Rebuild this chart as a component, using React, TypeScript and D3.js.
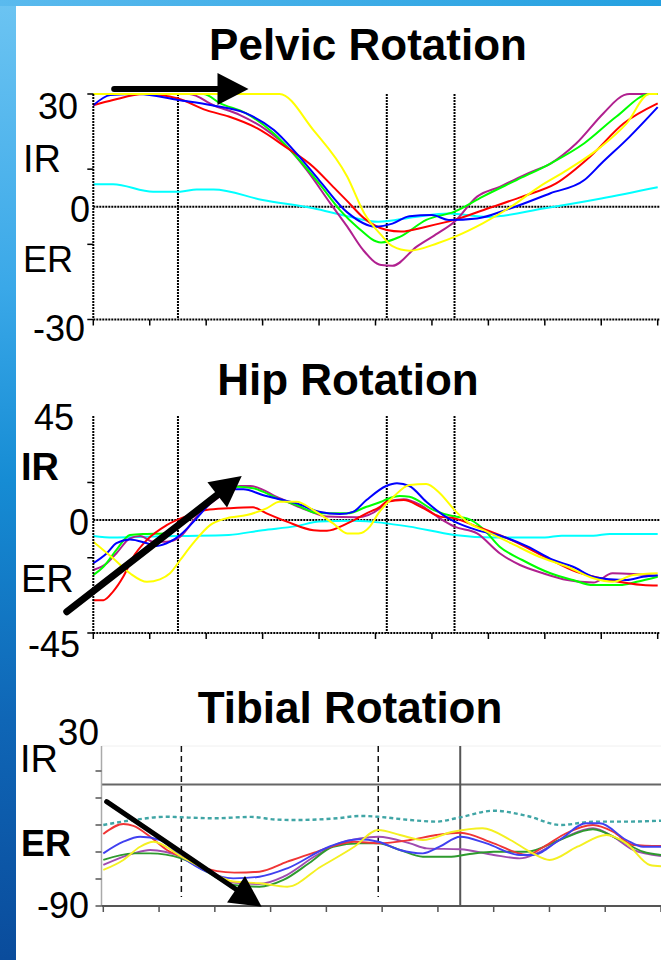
import React from "react";
import * as d3 from "d3";

type Pt = [number, number];

const FONT = "'Liberation Sans', Arial, Helvetica, sans-serif";

// x axis: % of gait cycle
const cycleTicks = [0, 10, 20, 30, 40, 50, 60, 70, 80, 90, 100];

// ---------- Pelvic rotation (deg) ----------
const pelvicEvents = [15, 52, 64];
const pelvicYTicks = [30, 10, -10, -30];
const pelvicCyan: Pt[] = [[0, 6], [3.5, 6], [10.6, 4], [15.4, 4], [18.3, 4.6], [21.3, 4.6], [30, 1.8], [39, -0.4], [45, -2.5], [50.5, -4], [57, -2.7], [63, -1.8], [70, -2.7], [80, -0.4], [90, 2.2], [100, 5.2]];
const pelvicMagenta: Pt[] = [[0, 30], [17, 30], [21.3, 27], [26, 24.4], [30.7, 20.4], [34.3, 16], [37.8, 9.8], [42, 0.9], [45, -5.3], [47.8, -11.5], [51, -15.5], [53, -15.7], [57.3, -10.6], [61, -7.1], [64, -4], [68, 2.7], [72, 5.3], [77, 8.9], [81, 11.5], [85.6, 16.9], [90.4, 24.9], [94, 29.7], [95, 30], [100, 30]];
const pelvicGreen: Pt[] = [[0, 30], [19.5, 30], [22.5, 27.5], [27, 24.9], [32, 19.5], [36, 13.3], [40, 6.2], [43.7, -0.9], [46.7, -5.3], [51, -9.5], [54.3, -8], [59, -3.5], [64, -1.3], [69, 2.7], [75, 7.1], [81, 11.5], [87, 16.9], [92.7, 24], [98.6, 30], [100, 30]];
const pelvicRed: Pt[] = [[0, 27], [3.5, 28.4], [9, 30], [15, 28.8], [20, 25.7], [24, 24], [29, 20.9], [34, 16], [39, 10.6], [42.5, 5.3], [45, 1.5], [48, -3.1], [52, -6.2], [54.5, -6.6], [59, -5.3], [64, -3.5], [70, -0.4], [76, 2.7], [82, 6.2], [88, 13.3], [94, 22.2], [100, 27.5]];
const pelvicBlue: Pt[] = [[0, 27], [3, 29.7], [8, 30], [15, 28.4], [21, 27], [27, 24.9], [32, 20.4], [36, 14.2], [40, 7.1], [45, -1.5], [50, -5.3], [53, -4.5], [56, -2.5], [60, -2.2], [63, -3.5], [68, -3.1], [73, -0.9], [81, 3.6], [87, 7.1], [90, 11.5], [95, 18.6], [100, 26.5]];
const pelvicYellow: Pt[] = [[0, 30], [10, 30], [20, 30], [33, 30], [39, 20.4], [45, 8], [48, -1.7], [51, -7.5], [53, -10.5], [56, -11.7], [61, -9.7], [64, -8], [69, -4.4], [74, 0], [79, 5.3], [84, 9.8], [90, 16], [94.5, 22.2], [98.5, 30], [100, 30]];

// ---------- Hip rotation (deg) ----------
const hipEvents = [15, 52, 64];
const hipYTicks = [15, -15, -45];
const hipCyan: Pt[] = [[0, -6.3], [3.5, -6.9], [9.5, -6.6], [15.4, -6.3], [24, -5.9], [30, -4], [36, -2.4], [40, -0.6], [46, -0.3], [51, -1], [52, -1.3], [56, -2.6], [64, -5.9], [71, -6.9], [80, -6.9], [83, -6.2], [88.6, -6.2], [91.5, -5.5], [100, -5.5]];
const hipMagenta: Pt[] = [[0, -19.9], [2.4, -17.2], [4.1, -13.2], [6.5, -7.3], [8.3, -6.3], [10.6, -8.6], [13, -8.6], [15.4, -6.6], [18.3, 1.4], [22, 8.7], [26, 13.6], [27.8, 13.6], [33, 8.7], [37.8, 4], [41.4, 1.4], [46.7, 1.1], [50.8, 4.7], [52, 7.3], [55, 8.3], [58, 6], [61.4, 0.7], [64, -2.6], [68, -5.3], [72, -13.2], [75.6, -17.9], [79.7, -21.2], [84, -23.9], [88.6, -24.9], [92, -21.2], [95.7, -21.5], [100, -22.3]];
const hipGreen: Pt[] = [[0, -21.9], [1.8, -18.6], [4.1, -11.9], [6.5, -5.9], [9.5, -5.5], [12.4, -5.3], [14.8, -2.6], [18.3, 4], [22, 10], [25.4, 13.3], [28.3, 12.7], [33, 8.3], [36, 6], [40, 2.7], [45, 2.7], [48.4, 5.3], [51, 7.3], [52, 8.3], [54.3, 9.6], [56, 9.3], [60.3, 4], [64, 1.4], [66.2, 0.7], [69, -3.3], [72, -10.6], [76, -15.9], [81, -21.2], [85, -23.9], [88.6, -25.9], [93.3, -25.9], [96.3, -24.6], [100, -22.6]];
const hipRed: Pt[] = [[0, -31.9], [1.8, -31.9], [3.5, -28.5], [5.3, -22.6], [7.1, -14.6], [9.5, -7.9], [13, -2], [17, 2], [20, 4], [24, 4.7], [28.3, 5.1], [30.7, 2.7], [34.3, -0.6], [39, -4], [41.4, -4.2], [45, -1.3], [48.4, 2.7], [50.8, 5.3], [52, 7.3], [55, 8], [58, 5.3], [61.4, 1.4], [64, 0.7], [68, -2.6], [74, -7.9], [80, -14.6], [85.6, -20.6], [91.5, -23.9], [97.4, -25.9], [100, -26.1]];
const hipBlue: Pt[] = [[0, -17.2], [2.4, -13.2], [4.1, -9.2], [6.5, -7.7], [9.5, -9.2], [11.2, -10.3], [13.6, -8.6], [15.4, -5.9], [18.3, 0.7], [21.3, 8], [24.8, 12.3], [26.6, 12.3], [30, 10], [33, 8.3], [36, 6.7], [40, 3.3], [43.7, 2.4], [46, 3.3], [48.4, 8], [51.9, 13.6], [53.8, 14.7], [56, 13.6], [59, 7.3], [62, 2], [64, -0.6], [68, -4], [72.6, -6.6], [77, -10.6], [81.5, -15.9], [85, -18.6], [88.6, -22.6], [91.5, -23.6], [94.5, -23.9], [97.4, -22.6], [100, -22]];
const hipYellow: Pt[] = [[0, -8.6], [3.5, -15.2], [6.5, -21.2], [9.5, -24.6], [11.8, -23.6], [13.6, -21.2], [15.4, -15.9], [17.7, -9.2], [20.7, -2], [23.6, 0.7], [27.2, 2], [30.7, 4.7], [33, 7.3], [36, 7.3], [39, 4], [42.5, -1.3], [45, -5.3], [47, -5.3], [49, -2.6], [50.5, 2.7], [53.2, 9.3], [56, 14], [59, 14.4], [61.4, 10.7], [64, 4], [66.2, -0.6], [69.7, -4.6], [74, -9.2], [79, -14.6], [84, -18.6], [88.6, -23.2], [92, -24.6], [95.7, -21.9], [100, -21.2]];

// ---------- Tibial rotation (deg) ----------
const tibialDashedEvents = [14, 49.3];
const tibialSolidEvents = [64];
const tibialYTicks = [10, -10, -30, -50, -70, -90];
const tibialTeal: Pt[] = [[0, -30], [5.4, -26.3], [11.4, -23.9], [14, -24.3], [20, -25], [26.5, -24], [31, -26], [34.4, -26.3], [42, -25], [46, -23.3], [49.3, -23.9], [55, -26.3], [59.7, -27.5], [64, -24.3], [70, -19.4], [76, -23.3], [82, -30], [88, -27.5], [94, -27.5], [100, -26.8]];
const tibialMagenta: Pt[] = [[0, -59.6], [5.4, -51], [8.4, -48.5], [14, -53.5], [18.5, -63.3], [23.3, -72.7], [28, -73.7], [32.3, -68.3], [38, -53], [42, -44], [46, -39.9], [49.3, -38.7], [55, -43.6], [58, -47.3], [64, -48], [70, -52.2], [74.7, -54.7], [77.7, -51], [83, -38.7], [87.8, -32.4], [91.4, -38.7], [95, -48.5], [100, -53]];
const tibialGreen: Pt[] = [[0, -55.9], [5.4, -51], [8.4, -51], [14, -54.7], [18.5, -64.6], [23.3, -74.4], [28, -75.7], [32.3, -70.7], [37, -58], [41.2, -46.1], [46, -43.6], [49.3, -43.6], [53.2, -48.5], [57.3, -53.5], [62, -53.5], [65.7, -51.5], [70, -49.8], [76, -49.8], [81.8, -41.1], [87.8, -33.2], [92.6, -41.1], [96.8, -49.8], [100, -52.2]];
const tibialRed: Pt[] = [[0, -36.7], [3.6, -29.3], [5.4, -30.7], [8.4, -38.7], [11.4, -48.5], [14, -53.5], [17.3, -60.9], [23.5, -65.3], [28, -64.6], [33, -57.2], [37.4, -51], [45, -42.4], [49.3, -43.6], [55, -41.1], [59.7, -37.4], [64, -35.7], [70, -43.6], [76, -52.2], [79, -46.1], [83, -36.1], [87.8, -30], [91.4, -35], [95, -44.8], [100, -45.6]];
const tibialBlue: Pt[] = [[0, -51], [3.6, -42.4], [6.6, -38.7], [10.2, -41.1], [14, -53.5], [18.5, -64.6], [23.3, -69.5], [28, -68.3], [33, -62.1], [40.5, -46.1], [45.7, -40.6], [49.3, -42.4], [53.2, -48.5], [57.3, -51], [60.3, -46.1], [64, -38.7], [68.7, -43.6], [74.7, -52.2], [77, -52.2], [81.8, -41.1], [86.6, -28.7], [89, -28.7], [93.8, -41.1], [96.8, -46.1], [100, -46.1]];
const tibialYellow: Pt[] = [[0, -63.3], [3.6, -55.9], [6.6, -46.1], [9, -42.4], [14, -53.5], [18.5, -63.3], [23.3, -71.9], [28, -73.2], [33, -75.7], [39, -60.9], [45, -46.1], [49.3, -33.7], [53.2, -37.4], [57.3, -41.1], [62.7, -35], [68, -32.4], [73, -41.1], [77, -51], [80, -55.9], [85, -46.1], [90.2, -37.4], [93.8, -43.6], [98, -59.6], [100, -60.6]];

// arrows, in data coordinates [x, deg]
const pelvicArrow: Pt[] = [[3.7, 31.3], [27.5, 31.3]];
const hipArrow: Pt[] = [[-4.7, -36.5], [26.3, 17.6]];
const tibialArrow: Pt[] = [[0.6, -12.7], [28.4, -90.5]];

type Series = { data: Pt[]; color: string; dash?: string };

const Arrow = ({ x1, y1, x2, y2, width }: { x1: number; y1: number; x2: number; y2: number; width: number }) => {
  const len = Math.hypot(x2 - x1, y2 - y1);
  const ux = (x2 - x1) / len, uy = (y2 - y1) / len;
  const hl = 31, hw = 16;
  const bx = x2 - ux * hl, by = y2 - uy * hl;
  const pts = `${x2},${y2} ${bx - uy * hw},${by + ux * hw} ${bx + uy * hw},${by - ux * hw}`;
  return (
    <g>
      <line x1={x1} y1={y1} x2={bx + ux * 3} y2={by + uy * 3} stroke="#000" strokeWidth={width} strokeLinecap="round" />
      <polygon points={pts} fill="#000" />
    </g>
  );
};

type Label = { text: string; x: number; y: number; anchor?: string; bold?: boolean; size: number };

const StdPanel = ({ title, titleX, titleY, series, yDomain, yRange, yTicks, events, labels, arrow, arrowWidth }:
  { title: string; titleX: number; titleY: number; series: Series[]; yDomain: number[]; yRange: number[]; yTicks: number[]; events: number[]; labels: Label[]; arrow: Pt[]; arrowWidth: number }) => {
  const x = d3.scaleLinear().domain([0, 100]).range([93.3, 657.7]);
  const y = d3.scaleLinear().domain(yDomain).range(yRange);
  const line = d3.line<Pt>().x(d => x(d[0])).y(d => y(d[1])).curve(d3.curveMonotoneX);
  const left = x(0), right = 660;
  const top = yRange[1], bottom = yRange[0];
  const dot = "2 1";
  return (
    <g>
      <text x={titleX} y={titleY} textAnchor="middle" fontWeight="bold" fontSize={44} fontFamily={FONT}>{title}</text>
      <line x1={left} x2={right} y1={y(0)} y2={y(0)} stroke="#000" strokeWidth={2} strokeDasharray={dot} />
      {events.map(e => (
        <line key={e} x1={x(e)} x2={x(e)} y1={top} y2={bottom} stroke="#000" strokeWidth={2} strokeDasharray={dot} />
      ))}
      {series.map((s, i) => (
        <path key={i} d={line(s.data) || ""} fill="none" stroke={s.color} strokeWidth={2} />
      ))}
      <line x1={left} x2={left} y1={top} y2={bottom} stroke="#000" strokeWidth={2} strokeDasharray={dot} />
      <line x1={left} x2={right} y1={bottom} y2={bottom} stroke="#000" strokeWidth={2} strokeDasharray={dot} />
      {yTicks.map(t => (
        <line key={t} x1={left - 6} x2={left} y1={y(t)} y2={y(t)} stroke="#000" strokeWidth={1.5} />
      ))}
      {cycleTicks.map(t => (
        <line key={t} x1={x(t)} x2={x(t)} y1={bottom} y2={bottom + 6} stroke="#000" strokeWidth={1.5} />
      ))}
      {labels.map((l, i) => (
        <text key={i} x={l.x} y={l.y} textAnchor={l.anchor || "start"} fontWeight={l.bold ? "bold" : "normal"} fontSize={l.size} fontFamily={FONT}>{l.text}</text>
      ))}
      <Arrow x1={x(arrow[0][0])} y1={y(arrow[0][1])} x2={x(arrow[1][0])} y2={y(arrow[1][1])} width={arrowWidth} />
    </g>
  );
};

const TibialPanel = () => {
  const x = d3.scaleLinear().domain([0, 100]).range([103.3, 661]);
  const y = d3.scaleLinear().domain([-90, 30]).range([906, 744]);
  const line = d3.line<Pt>().x(d => x(d[0])).y(d => y(d[1])).curve(d3.curveMonotoneX);
  const left = 101.5, right = 661, top = 746, bottom = y(-90);
  const series: Series[] = [
    { data: tibialTeal, color: "#3fa5a5", dash: "4 3" },
    { data: tibialMagenta, color: "#a04cb0" },
    { data: tibialGreen, color: "#2f9a2f" },
    { data: tibialRed, color: "#f03535" },
    { data: tibialBlue, color: "#4040f0" },
    { data: tibialYellow, color: "#f4f020" },
  ];
  return (
    <g>
      <text x={350} y={723} textAnchor="middle" fontWeight="bold" fontSize={44} fontFamily={FONT}>Tibial Rotation</text>
      <line x1={left} x2={right} y1={top} y2={top} stroke="#f0f0f0" strokeWidth={1} />
      <line x1={left} x2={right} y1={y(0)} y2={y(0)} stroke="#666" strokeWidth={2} />
      {tibialSolidEvents.map(e => (
        <line key={e} x1={x(e)} x2={x(e)} y1={top} y2={bottom} stroke="#555" strokeWidth={2} />
      ))}
      {tibialDashedEvents.map(e => (
        <line key={e} x1={x(e)} x2={x(e)} y1={top} y2={bottom - 9} stroke="#111" strokeWidth={1.5} strokeDasharray="6 4" />
      ))}
      <g filter="url(#soft)">
        {series.map((s, i) => (
          <path key={i} d={line(s.data) || ""} fill="none" stroke={s.color} strokeWidth={s.dash ? 2.4 : 1.9} strokeDasharray={s.dash} />
        ))}
      </g>
      <line x1={left} x2={left} y1={top} y2={bottom} stroke="#aaa" strokeWidth={1.5} />
      <line x1={left} x2={right} y1={bottom} y2={bottom} stroke="#555" strokeWidth={2} />
      {tibialYTicks.map(t => (
        <line key={t} x1={left - 6} x2={left} y1={y(t)} y2={y(t)} stroke="#555" strokeWidth={1.5} />
      ))}
      {cycleTicks.map(t => (
        <line key={t} x1={x(t)} x2={x(t)} y1={bottom} y2={bottom + 6} stroke="#555" strokeWidth={1.5} />
      ))}
      <text x={20} y={772} fontSize={38} fontFamily={FONT}>IR</text>
      <text x={99} y={745} textAnchor="end" fontSize={37} fontFamily={FONT}>30</text>
      <text x={21} y={856} fontSize={36} fontWeight="bold" fontFamily={FONT}>ER</text>
      <text x={89} y={918} textAnchor="end" fontSize={36} fontFamily={FONT}>-90</text>
      <Arrow x1={x(tibialArrow[0][0])} y1={y(tibialArrow[0][1])} x2={x(tibialArrow[1][0])} y2={y(tibialArrow[1][1])} width={5} />
    </g>
  );
};

export default function App() {
  const W = 661, H = 960;
  const pelvicSeries: Series[] = [
    { data: pelvicCyan, color: "#00ffff" },
    { data: pelvicMagenta, color: "#b0208f" },
    { data: pelvicGreen, color: "#00ff00" },
    { data: pelvicRed, color: "#ff0000" },
    { data: pelvicBlue, color: "#0000ff" },
    { data: pelvicYellow, color: "#ffff00" },
  ];
  const hipSeries: Series[] = [
    { data: hipCyan, color: "#00ffff" },
    { data: hipMagenta, color: "#b0208f" },
    { data: hipGreen, color: "#00ff00" },
    { data: hipRed, color: "#ff0000" },
    { data: hipBlue, color: "#0000ff" },
    { data: hipYellow, color: "#ffff00" },
  ];
  return (
    <div style={{ position: "absolute", left: 0, top: 0 }}>
      <svg width={W} height={H} style={{ display: "block" }}>
        <defs>
          <linearGradient id="sideBlue" x1="0" y1="0" x2="0" y2="1">
            <stop offset="0" stopColor="#6cc4f2" />
            <stop offset="0.3" stopColor="#3aa8e8" />
            <stop offset="0.5" stopColor="#168cd4" />
            <stop offset="0.75" stopColor="#0f66b6" />
            <stop offset="1" stopColor="#0a4c9c" />
          </linearGradient>
          <linearGradient id="topBlue" x1="0" y1="0" x2="1" y2="0">
            <stop offset="0" stopColor="#5abaee" />
            <stop offset="1" stopColor="#24a0e0" />
          </linearGradient>
          <filter id="soft" x="-5%" y="-5%" width="110%" height="110%">
            <feGaussianBlur stdDeviation="0.35" />
          </filter>
        </defs>
        <rect x={0} y={0} width={W} height={H} fill="url(#sideBlue)" />
        <rect x={0} y={0} width={W} height={6} fill="url(#topBlue)" />
        <rect x={16} y={6} width={W - 16} height={H - 6} fill="#fff" />

        <StdPanel
          title="Pelvic Rotation" titleX={368} titleY={60}
          series={pelvicSeries} yDomain={[-30, 30]} yRange={[319.5, 94]} yTicks={pelvicYTicks}
          events={pelvicEvents} arrow={pelvicArrow} arrowWidth={6}
          labels={[
            { text: "30", x: 78, y: 119, anchor: "end", size: 36 },
            { text: "IR", x: 23, y: 172, size: 38 },
            { text: "0", x: 90, y: 222, anchor: "end", size: 36 },
            { text: "ER", x: 23, y: 272, size: 36 },
            { text: "-30", x: 85, y: 341, anchor: "end", size: 36 },
          ]}
        />
        <StdPanel
          title="Hip Rotation" titleX={348} titleY={395}
          series={hipSeries} yDomain={[-45, 41.5]} yRange={[633, 416]} yTicks={hipYTicks}
          events={hipEvents} arrow={hipArrow} arrowWidth={7}
          labels={[
            { text: "45", x: 74, y: 430, anchor: "end", size: 36 },
            { text: "IR", x: 21, y: 480, bold: true, size: 38 },
            { text: "0", x: 89, y: 535, anchor: "end", size: 36 },
            { text: "ER", x: 21, y: 592, size: 38 },
            { text: "-45", x: 80, y: 657, anchor: "end", size: 36 },
          ]}
        />
        <TibialPanel />
      </svg>
    </div>
  );
}
